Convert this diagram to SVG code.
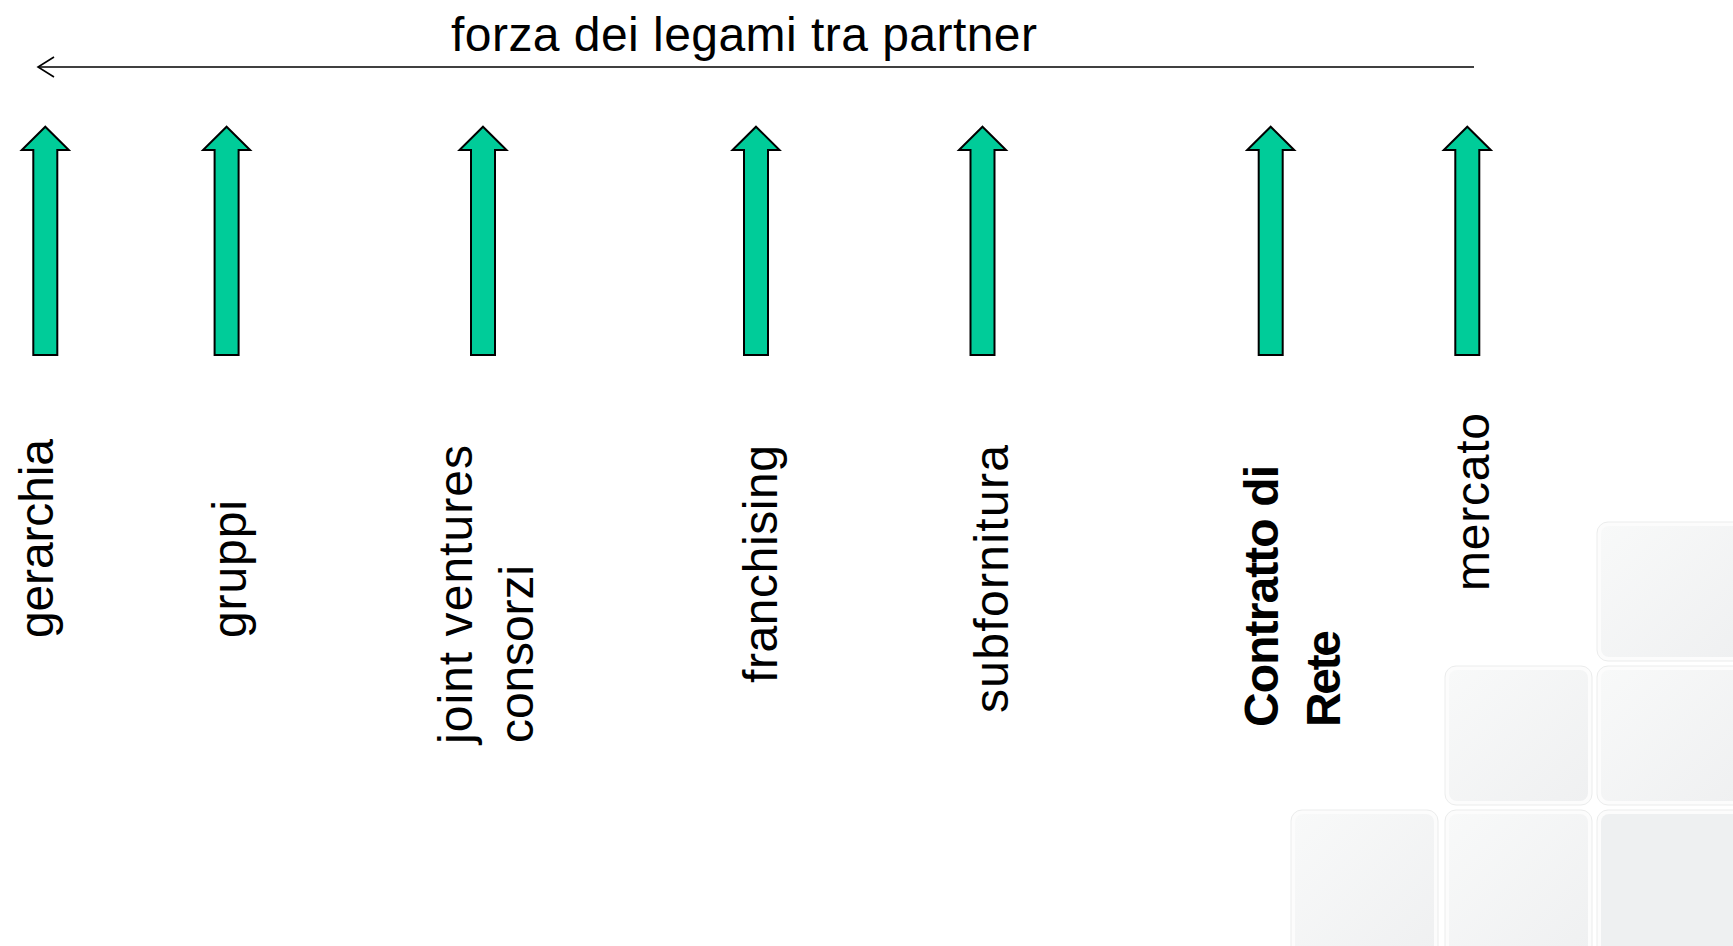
<svg xmlns="http://www.w3.org/2000/svg" width="1733" height="946" viewBox="0 0 1733 946">
<defs>
<linearGradient id="sq" x1="0" y1="0" x2="1" y2="1">
<stop offset="0" stop-color="#f8f9f9"/>
<stop offset="1" stop-color="#eff0f1"/>
</linearGradient>
<marker id="open" markerWidth="22" markerHeight="24" refX="18" refY="12" orient="auto" markerUnits="userSpaceOnUse">
<polyline points="2,2 18,12 2,22" fill="none" stroke="#000" stroke-width="1.6"/>
</marker>
<path id="up" d="M0,126.7 L23.5,150 L12,150 L12,355 L-12,355 L-12,150 L-23.5,150 Z"/>
</defs>
<style>
.bg{fill:#ffffff}
.sqo{fill:#fcfcfc;stroke:#ebecec;stroke-width:1}
.sqi{fill:url(#sq)}
.arr{fill:#00cc99;stroke:#000;stroke-width:2;stroke-linejoin:miter}
.t{font-family:"Liberation Sans",Arial,sans-serif;font-size:48px;fill:#000}
.b{font-weight:bold}
.ln{fill:none;stroke:#000;stroke-width:1.6}
</style>
<rect class="bg" x="0" y="0" width="1733" height="946"/>
<g id="background">
<rect class="sqo" x="1597" y="522" width="148" height="139" rx="11"/>
<rect class="sqi" x="1601" y="526" width="140" height="131" rx="8"/>
<rect class="sqo" x="1445" y="666" width="147" height="139" rx="11"/>
<rect class="sqi" x="1449" y="670" width="139" height="131" rx="8"/>
<rect class="sqo" x="1597" y="666" width="148" height="139" rx="11"/>
<rect class="sqi" x="1601" y="670" width="140" height="131" rx="8"/>
<rect class="sqo" x="1291" y="810" width="147" height="150" rx="11"/>
<rect class="sqi" x="1295" y="814" width="139" height="142" rx="8"/>
<rect class="sqo" x="1445" y="810" width="147" height="150" rx="11"/>
<rect class="sqi" x="1449" y="814" width="139" height="142" rx="8"/>
<rect class="sqo" x="1597" y="810" width="148" height="150" rx="11"/>
<rect class="sqi" x="1601" y="814" width="140" height="142" rx="8" style="fill:#eef0f1"/>
</g>
<g id="title">
<text class="t" x="451" y="51" textLength="586" lengthAdjust="spacing">forza dei legami tra partner</text>
</g>
<g id="connectors">
<line class="ln" x1="1474" y1="67" x2="38" y2="67" marker-end="url(#open)"/>
</g>
<g id="node-gerarchia">
<use href="#up" class="arr" x="45.3"/>
<text class="t" transform="translate(53,638) rotate(-90)" textLength="199" lengthAdjust="spacing">gerarchia</text>
</g>
<g id="node-gruppi">
<use href="#up" class="arr" x="226.6"/>
<text class="t" transform="translate(246,638) rotate(-90)" textLength="138" lengthAdjust="spacing">gruppi</text>
</g>
<g id="node-joint">
<use href="#up" class="arr" x="483"/>
<text class="t" transform="translate(472,744) rotate(-90)" textLength="299" lengthAdjust="spacing">joint ventures</text>
<text class="t" transform="translate(533,743) rotate(-90)" textLength="178" lengthAdjust="spacing">consorzi</text>
</g>
<g id="node-franchising">
<use href="#up" class="arr" x="756"/>
<text class="t" transform="translate(777,683) rotate(-90)" textLength="238" lengthAdjust="spacing">franchising</text>
</g>
<g id="node-subfornitura">
<use href="#up" class="arr" x="982.5"/>
<text class="t" transform="translate(1008,713) rotate(-90)" textLength="268" lengthAdjust="spacing">subfornitura</text>
</g>
<g id="node-contratto">
<use href="#up" class="arr" x="1270.7"/>
<text class="t b" transform="translate(1278,727) rotate(-90)" textLength="262" lengthAdjust="spacing">Contratto di</text>
<text class="t b" transform="translate(1340,727) rotate(-90)" textLength="97" lengthAdjust="spacing">Rete</text>
</g>
<g id="node-mercato">
<use href="#up" class="arr" x="1467.3"/>
<text class="t" transform="translate(1489,591) rotate(-90)" textLength="178" lengthAdjust="spacing">mercato</text>
</g>
</svg>
